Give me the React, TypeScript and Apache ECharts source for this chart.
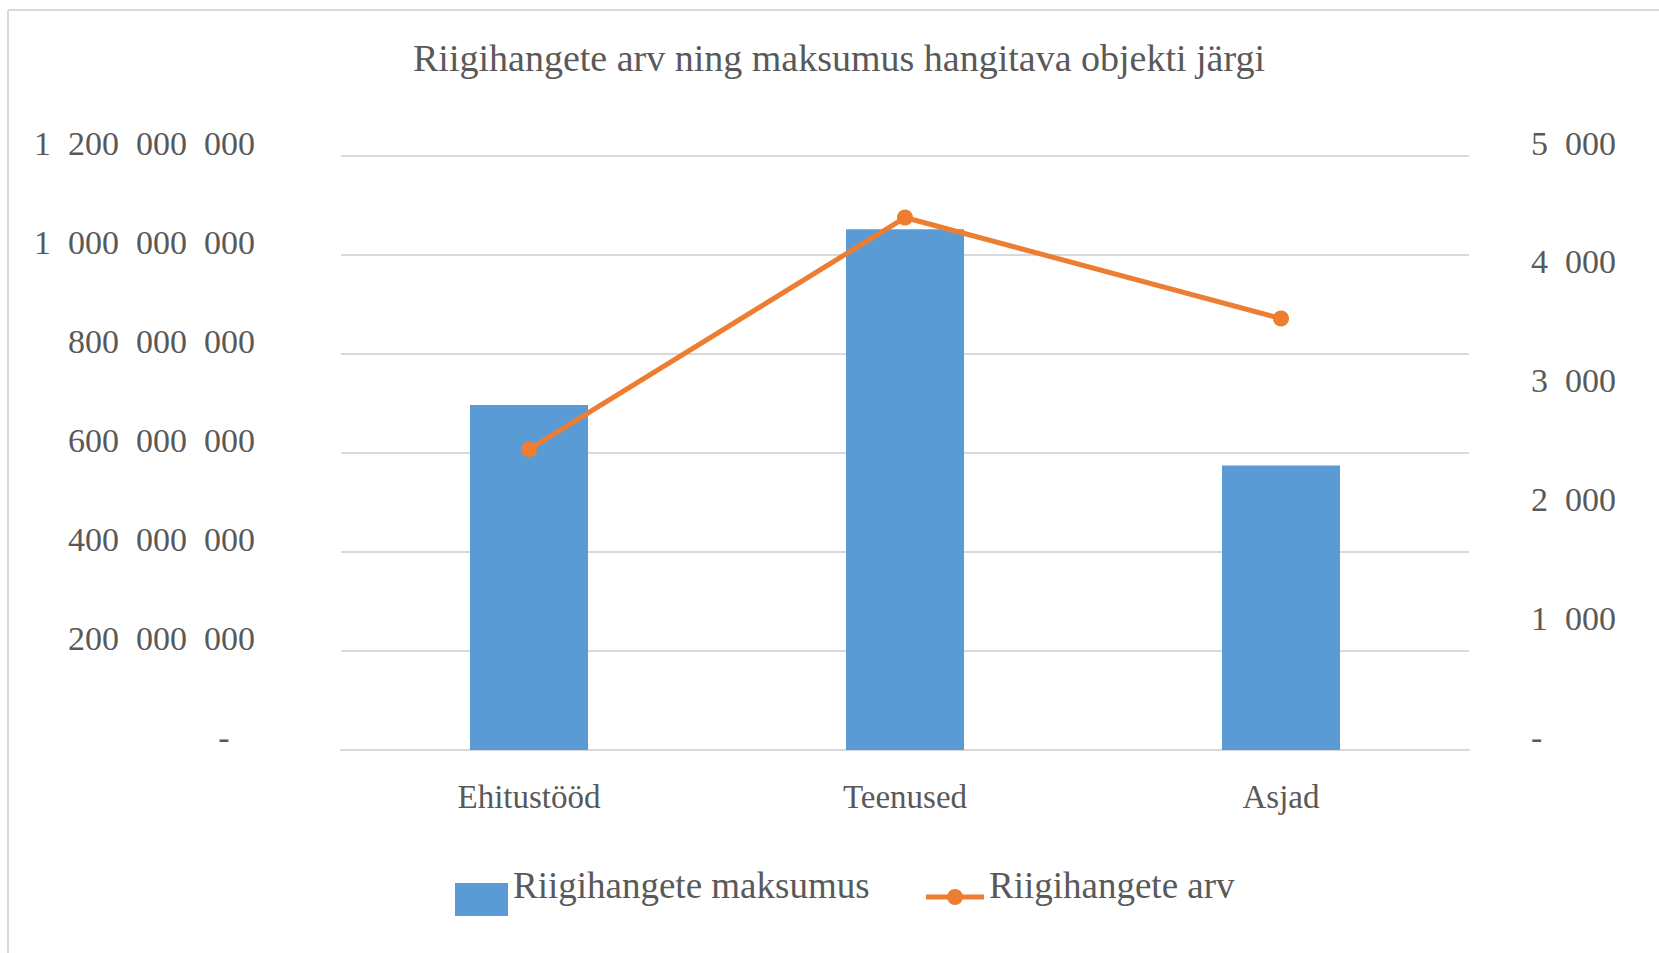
import React, { useEffect, useRef } from 'react';
import * as echarts from 'echarts';

const titleText = 'Riigihangete arv ning maksumus hangitava objekti järgi';
const categories = ['Ehitustööd', 'Teenused', 'Asjad'];
const barName = 'Riigihangete maksumus';
const lineName = 'Riigihangete arv';
const maksumus = [697000000, 1052000000, 575000000];
const arv = [2530, 4482, 3632];
const leftAxis = { min: 0, max: 1200000000, interval: 200000000 };
const rightAxis = { min: 0, max: 5000, interval: 1000 };

const FONT = '"Liberation Serif", "Times New Roman", serif';
const TEXT = '#595959';
const GRID = '#d9d9d9';
const BAR = '#5b9bd5';
const LINE = '#ed7d31';

// legend icons: an invisible top edge keeps the visible mark low in the icon box,
// so that the legend text sits higher than the mark as in the original
const barIcon = 'path://M0,0L53,0Z M0,28L53,28L53,61L0,61Z';
const lineIcon =
  'path://M0,0L58,0Z M0,29.5L58,29.5L58,34.5L0,34.5Z M21,32A8,8,0,1,1,37,32A8,8,0,1,1,21,32Z';

function groupDigits(v: number): string {
  return Math.round(v).toString().replace(/\B(?=(\d{3})+(?!\d))/g, '\u2007');
}

export default function App() {
  const ref = useRef<HTMLDivElement>(null);
  useEffect(() => {
    const chart = echarts.init(ref.current!, null, { renderer: 'svg' });
    chart.setOption({
      animation: false,
      backgroundColor: '#ffffff',
      title: {
        text: titleText,
        left: 408,
        top: 34,
        padding: 5,
        textStyle: { fontFamily: FONT, fontSize: 38, fontWeight: 'normal', color: TEXT },
      },
      graphic: [
        { type: 'line', shape: { x1: 8, y1: 10, x2: 1659, y2: 10 }, style: { stroke: GRID, lineWidth: 2 }, silent: true },
        { type: 'line', shape: { x1: 8, y1: 10, x2: 8, y2: 953 }, style: { stroke: GRID, lineWidth: 2 }, silent: true },
      ],
      grid: { left: 341, right: 190, top: 156, bottom: 203, containLabel: false, outerBoundsMode: 'none' },
      legend: [
        {
          data: [{ name: barName, icon: barIcon }],
          left: 455,
          top: 855,
          padding: 0,
          itemWidth: 53,
          itemHeight: 61,
          itemStyle: { borderWidth: 0 },
          textStyle: { fontFamily: FONT, fontSize: 37, color: TEXT },
        },
        {
          data: [{ name: lineName, icon: lineIcon }],
          left: 926,
          top: 865,
          padding: 0,
          itemWidth: 58,
          itemHeight: 40,
          itemStyle: { borderWidth: 0 },
          textStyle: { fontFamily: FONT, fontSize: 37, color: TEXT },
        },
      ],
      xAxis: {
        type: 'category',
        data: categories,
        axisLine: { show: true, lineStyle: { color: GRID, width: 2 } },
        axisTick: { show: false },
        axisLabel: { fontFamily: FONT, fontSize: 33, color: TEXT, margin: 30 },
      },
      yAxis: [
        {
          type: 'value',
          min: leftAxis.min,
          max: leftAxis.max,
          interval: leftAxis.interval,
          axisLine: { show: false },
          axisTick: { show: false },
          splitLine: { show: true, lineStyle: { color: GRID, width: 2 } },
          axisLabel: {
            fontFamily: FONT,
            fontSize: 34,
            color: TEXT,
            margin: 86,
            verticalAlign: 'bottom',
            lineHeight: 26,
            formatter: (v: number) => (v === 0 ? '-\u2007\u00A0' : groupDigits(v)),
          },
        },
        {
          type: 'value',
          position: 'right',
          min: rightAxis.min,
          max: rightAxis.max,
          interval: rightAxis.interval,
          axisLine: { show: false },
          axisTick: { show: false },
          splitLine: { show: false },
          axisLabel: {
            fontFamily: FONT,
            fontSize: 34,
            color: TEXT,
            margin: 62,
            verticalAlign: 'bottom',
            lineHeight: 26,
            formatter: (v: number) => (v === 0 ? '-' : groupDigits(v)),
          },
        },
      ],
      series: [
        {
          name: barName,
          type: 'bar',
          data: maksumus,
          barWidth: 118,
          itemStyle: { color: BAR },
        },
        {
          name: lineName,
          type: 'line',
          yAxisIndex: 1,
          data: arv,
          symbol: 'circle',
          symbolSize: 16,
          itemStyle: { color: LINE, borderWidth: 0 },
          lineStyle: { color: LINE, width: 5 },
          z: 5,
        },
      ],
    });
    return () => chart.dispose();
  }, []);
  return (
    <div
      ref={ref}
      style={{ position: 'fixed', left: 0, top: 0, width: 1659, height: 953, background: '#fff' }}
    />
  );
}
